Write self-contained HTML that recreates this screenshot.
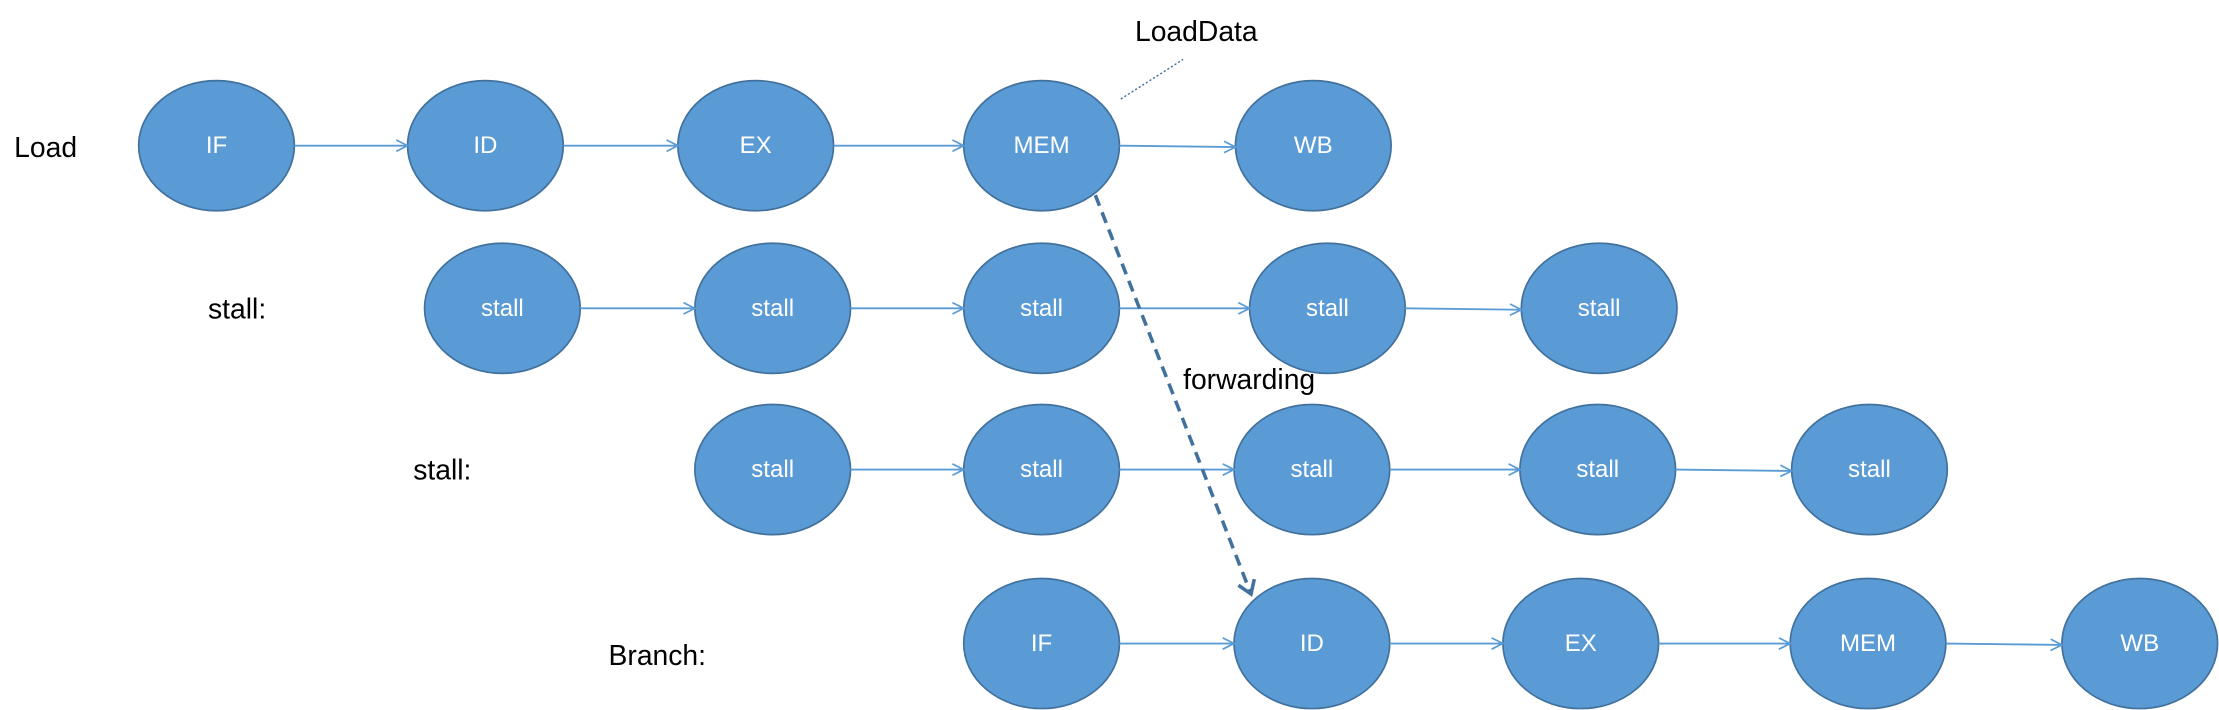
<!DOCTYPE html>
<html><head><style>html,body{margin:0;padding:0;background:#fff;}svg{display:block;}</style></head>
<body>
<svg width="2219" height="710" viewBox="0 0 1568 502" preserveAspectRatio="none" xmlns="http://www.w3.org/2000/svg" font-family="Liberation Sans, sans-serif">
<defs>
<marker id="a" markerWidth="10" markerHeight="10" refX="9" refY="5" orient="auto" markerUnits="userSpaceOnUse"><path d="M1,1 L9,5 L1,9" fill="none" stroke="#5b9bd5" stroke-width="1.2"/></marker>
<marker id="d" markerWidth="14" markerHeight="14" refX="12" refY="7" orient="auto" markerUnits="userSpaceOnUse" viewBox="0 0 14 14"><path d="M3,1 L12,7 L3,13" fill="none" stroke="#41719c" stroke-width="2.5"/></marker>
</defs>
<g fill="#5b9bd5" stroke="#41719c" stroke-width="1.2">
<ellipse cx="153" cy="103" rx="55" ry="46"/><ellipse cx="343" cy="103" rx="55" ry="46"/><ellipse cx="534" cy="103" rx="55" ry="46"/><ellipse cx="736" cy="103" rx="55" ry="46"/><ellipse cx="928" cy="103" rx="55" ry="46"/>
<ellipse cx="355" cy="218" rx="55" ry="46"/><ellipse cx="546" cy="218" rx="55" ry="46"/><ellipse cx="736" cy="218" rx="55" ry="46"/><ellipse cx="938" cy="218" rx="55" ry="46"/><ellipse cx="1130" cy="218" rx="55" ry="46"/>
<ellipse cx="546" cy="332" rx="55" ry="46"/><ellipse cx="736" cy="332" rx="55" ry="46"/><ellipse cx="927" cy="332" rx="55" ry="46"/><ellipse cx="1129" cy="332" rx="55" ry="46"/><ellipse cx="1321" cy="332" rx="55" ry="46"/>
<ellipse cx="736" cy="455" rx="55" ry="46"/><ellipse cx="927" cy="455" rx="55" ry="46"/><ellipse cx="1117" cy="455" rx="55" ry="46"/><ellipse cx="1320" cy="455" rx="55" ry="46"/><ellipse cx="1512" cy="455" rx="55" ry="46"/>
</g>
<g stroke="#5b9bd5" stroke-width="1.3" marker-end="url(#a)">
<line x1="208" y1="103" x2="288" y2="103"/><line x1="398" y1="103" x2="479" y2="103"/><line x1="589" y1="103" x2="681" y2="103"/><line x1="791" y1="103" x2="873" y2="104"/>
<line x1="410" y1="218" x2="491" y2="218"/><line x1="601" y1="218" x2="681" y2="218"/><line x1="791" y1="218" x2="883" y2="218"/><line x1="993" y1="218" x2="1075" y2="219"/>
<line x1="601" y1="332" x2="681" y2="332"/><line x1="791" y1="332" x2="872" y2="332"/><line x1="982" y1="332" x2="1074" y2="332"/><line x1="1184" y1="332" x2="1266" y2="333"/>
<line x1="791" y1="455" x2="872" y2="455"/><line x1="982" y1="455" x2="1062" y2="455"/><line x1="1172" y1="455" x2="1265" y2="455"/><line x1="1375" y1="455" x2="1457" y2="456"/>
</g>
<line x1="774" y1="138" x2="884" y2="420" stroke="#41719c" stroke-width="2.5" stroke-dasharray="8,5" marker-end="url(#d)"/>
<line x1="792" y1="70" x2="836" y2="42" stroke="#41719c" stroke-width="1" stroke-dasharray="1.5,1.5"/>
<g fill="#fff" font-size="17" text-anchor="middle" dominant-baseline="central">
<text x="153" y="103">IF</text><text x="343" y="103">ID</text><text x="534" y="103">EX</text><text x="736" y="103">MEM</text><text x="928" y="103">WB</text>
<text x="355" y="218">stall</text><text x="546" y="218">stall</text><text x="736" y="218">stall</text><text x="938" y="218">stall</text><text x="1130" y="218">stall</text>
<text x="546" y="332">stall</text><text x="736" y="332">stall</text><text x="927" y="332">stall</text><text x="1129" y="332">stall</text><text x="1321" y="332">stall</text>
<text x="736" y="455">IF</text><text x="927" y="455">ID</text><text x="1117" y="455">EX</text><text x="1320" y="455">MEM</text><text x="1512" y="455">WB</text>
</g>
<g fill="#000" font-size="20" dominant-baseline="central">
<text x="10" y="104">Load</text><text x="147" y="218">stall:</text><text x="292" y="332">stall:</text><text x="430" y="463">Branch:</text>
<text x="802" y="22">LoadData</text><text x="836" y="268">forwarding</text>
</g>
</svg>
</body></html>
